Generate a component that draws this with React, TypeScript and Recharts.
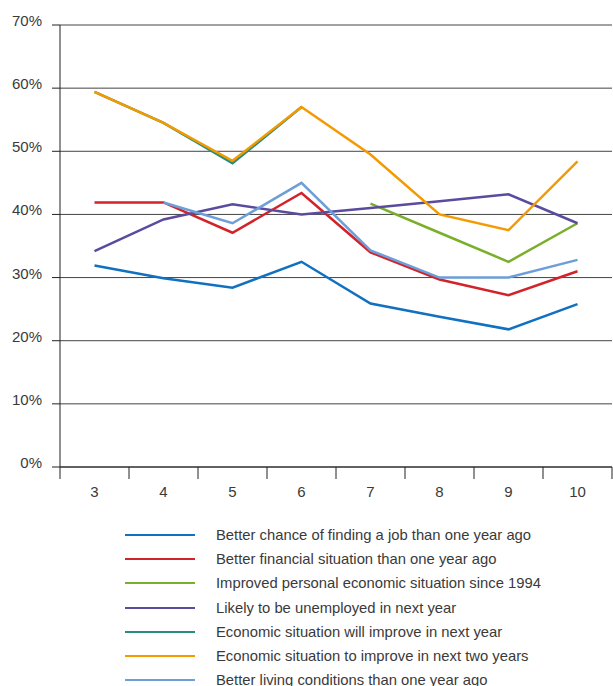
import { LineChart, Line, XAxis, YAxis, CartesianGrid } from 'recharts';

// survey waves on the x axis
const waves = [3, 4, 5, 6, 7, 8, 9, 10];

// share of respondents, %
const betterJob = [31.9, 29.9, 28.4, 32.5, 25.9, 23.8, 21.8, 25.8];
const betterFinance = [41.9, 41.9, 37.1, 43.4, 34.0, 29.7, 27.2, 31.0];
const improvedSince1994 = [null, null, null, null, 41.7, 37.1, 32.5, 38.6];
const likelyUnemployed = [34.2, 39.2, 41.6, 40.0, 41.0, 42.1, 43.2, 38.6];
const improveNextYear = [59.4, 54.5, 48.1, 57.0, null, null, null, null];
const improveTwoYears = [59.4, 54.5, 48.5, 57.0, 49.5, 40.0, 37.5, 48.4];
const betterLiving = [null, 41.9, 38.6, 45.0, 34.3, 30.0, 30.0, 32.8];

const yTicks = [0, 10, 20, 30, 40, 50, 60, 70];
// integer ticks get labels, half steps get the separator marks
const xTicks = [2.5, 3, 3.5, 4, 4.5, 5, 5.5, 6, 6.5, 7, 7.5, 8, 8.5, 9, 9.5, 10, 10.5];

const series = [
  { key: 'job', name: 'Better chance of finding a job than one year ago', values: betterJob, color: '#1170bf' },
  { key: 'finance', name: 'Better financial situation than one year ago', values: betterFinance, color: '#d2232a' },
  { key: 'since1994', name: 'Improved personal economic situation since 1994', values: improvedSince1994, color: '#7aaf2c' },
  { key: 'unemployed', name: 'Likely to be unemployed in next year', values: likelyUnemployed, color: '#5b4b9f' },
  { key: 'nextYear', name: 'Economic situation will improve in next year', values: improveNextYear, color: '#2a8d7c' },
  { key: 'twoYears', name: 'Economic situation to improve in next two years', values: improveTwoYears, color: '#f29a00' },
  { key: 'living', name: 'Better living conditions than one year ago', values: betterLiving, color: '#6d9ed8' },
];

const data = waves.map((w, i) => {
  const row: Record<string, number | null> = { wave: w };
  series.forEach(s => { row[s.key] = s.values[i]; });
  return row;
});

const FONT = '"Liberation Sans", Arial, sans-serif';
const INK = '#3a3a3a';

function XTick(props: any) {
  const { x, y, payload } = props;
  const v = payload.value;
  if (Number.isInteger(v)) {
    return (
      <text x={x} y={y + 30} textAnchor="middle" fontSize={15} fill={INK} fontFamily={FONT}>{v}</text>
    );
  }
  return <line x1={x} x2={x} y1={y} y2={y + 12} stroke="#222" strokeWidth={1} />;
}

function YTick(props: any) {
  const { x, y, payload } = props;
  return (
    <text x={x} y={y + 1} textAnchor="end" fontSize={15} fill={INK} fontFamily={FONT}>{payload.value}%</text>
  );
}

export default function App() {
  return (
    <div style={{ position: 'absolute', left: 0, top: 0, width: 613, height: 686, background: '#fff', overflow: 'hidden' }}>
      <LineChart width={613} height={512} data={data} margin={{ top: 25, right: 1, left: 0, bottom: 15 }}>
        <CartesianGrid vertical={false} stroke="#444" strokeWidth={1} />
        <XAxis
          dataKey="wave"
          type="number"
          domain={[2.5, 10.5]}
          ticks={xTicks}
          interval={0}
          height={30}
          tickLine={false}
          tickSize={0}
          tickMargin={0}
          axisLine={{ stroke: '#222' }}
          tick={<XTick />}
        />
        <YAxis
          domain={[0, 70]}
          ticks={yTicks}
          interval={0}
          width={60}
          tickSize={8}
          tickMargin={10}
          tickLine={{ stroke: '#222' }}
          axisLine={{ stroke: '#222' }}
          tick={<YTick />}
        />
        {series.map(s => (
          <Line
            key={s.key}
            dataKey={s.key}
            name={s.name}
            stroke={s.color}
            strokeWidth={2.5}
            dot={false}
            activeDot={false}
            type="linear"
            isAnimationActive={false}
          />
        ))}
      </LineChart>
      <div style={{ position: 'absolute', left: 0, top: 523, fontFamily: FONT, fontSize: 14.8, color: INK }}>
        {series.map(s => (
          <div key={s.key} style={{ height: 24.2, display: 'flex', alignItems: 'center' }}>
            <div style={{ marginLeft: 125, width: 70, height: 2, background: s.color }} />
            <div style={{ marginLeft: 21, whiteSpace: 'nowrap' }}>{s.name}</div>
          </div>
        ))}
      </div>
    </div>
  );
}
